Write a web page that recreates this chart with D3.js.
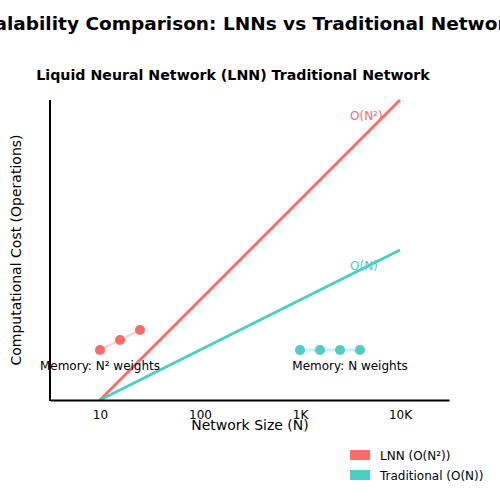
<!DOCTYPE html><html><head><meta charset="utf-8"><script src="https://d3js.org/d3.v7.min.js"></script>
<style>body{margin:0;background:#fff}text{font-family:"DejaVu Sans",sans-serif}</style></head><body><svg width="500" height="500"></svg>
<script>
const sizes=[10,10000];
const lnnCost=[0,1];
const tradCost=[0,0.5];
const lnnMemN=[10,15.85,25.12];
const lnnMemY=[0.1667,0.2,0.2333];
const tradMemN=[1000,1585,2512,3981];
const tradMemY=[0.1667,0.1667,0.1667,0.1667];
const tickVals=[10,100,1000,10000];
const tickLabels=["10","100","1K","10K"];
const legendLabels=["LNN (O(N²))","Traditional (O(N))"];
const colors=["#ff6b6b","#4ecdc4"];
const svg=d3.select("svg");
const x=d3.scaleLog().domain([Math.pow(10,0.5),Math.pow(10,4.49)]).range([50,449]);
const y=d3.scaleLinear().domain([0,1]).range([400,100]);
svg.append("text").attr("x",250).attr("y",30).attr("text-anchor","middle").attr("font-size",18.5).attr("font-weight","bold").text("Scalability Comparison: LNNs vs Traditional Networks");
svg.append("text").attr("x",233).attr("y",80).attr("text-anchor","middle").attr("font-size",14.2).attr("font-weight","bold").text("Liquid Neural Network (LNN) Traditional Network");
const line=d3.line().x(d=>x(d[0])).y(d=>y(d[1]));
[[lnnCost,0],[tradCost,1]].forEach(([c,i])=>{
 svg.append("path").attr("d",line(sizes.map((s,j)=>[s,c[j]]))).attr("fill","none").attr("stroke",colors[i]).attr("stroke-width",3);
});
svg.append("text").attr("x",x(10000)-50).attr("y",y(1)+20).attr("fill",colors[0]).attr("font-size",12).text("O(N²)");
svg.append("text").attr("x",x(10000)-50).attr("y",y(0.5)+20).attr("fill",colors[1]).attr("font-size",12).text("O(N)");
[[lnnMemN,lnnMemY,0,1],[tradMemN,tradMemY,1,2]].forEach(([ns,ys,i,w])=>{
 const pts=ns.map((n,j)=>[n,ys[j]]);
 svg.append("path").attr("d",line(pts)).attr("fill","none").attr("stroke",colors[i]).attr("stroke-opacity",0.3).attr("stroke-width",w+1);
 svg.selectAll(null).data(pts).enter().append("circle").attr("cx",d=>x(d[0])).attr("cy",d=>y(d[1])).attr("r",5).attr("fill",colors[i]);
});
svg.append("text").attr("x",x(10)).attr("y",370).attr("text-anchor","middle").attr("font-size",12).text("Memory: N² weights");
svg.append("text").attr("x",350).attr("y",370).attr("text-anchor","middle").attr("font-size",12).text("Memory: N weights");
const xa=svg.append("g").attr("transform","translate(0,400)").call(d3.axisBottom(x).tickValues(tickVals).tickFormat((d,i)=>tickLabels[i]).tickSize(0).tickPadding(10));
xa.select(".domain").attr("stroke-width",2);
xa.selectAll("text").attr("font-size",12).attr("font-family","DejaVu Sans");
svg.append("line").attr("x1",50).attr("x2",50).attr("y1",100).attr("y2",401).attr("stroke","#000").attr("stroke-width",2);
svg.append("text").attr("x",250).attr("y",430).attr("text-anchor","middle").attr("font-size",14).text("Network Size (N)");
svg.append("text").attr("transform","translate(21,250) rotate(-90)").attr("text-anchor","middle").attr("font-size",14).text("Computational Cost (Operations)");
legendLabels.forEach((l,i)=>{
 svg.append("rect").attr("x",350).attr("y",450+i*20).attr("width",20).attr("height",10).attr("fill",colors[i]);
 svg.append("text").attr("x",380).attr("y",460+i*20).attr("font-size",12).text(l);
});
</script></body></html>
